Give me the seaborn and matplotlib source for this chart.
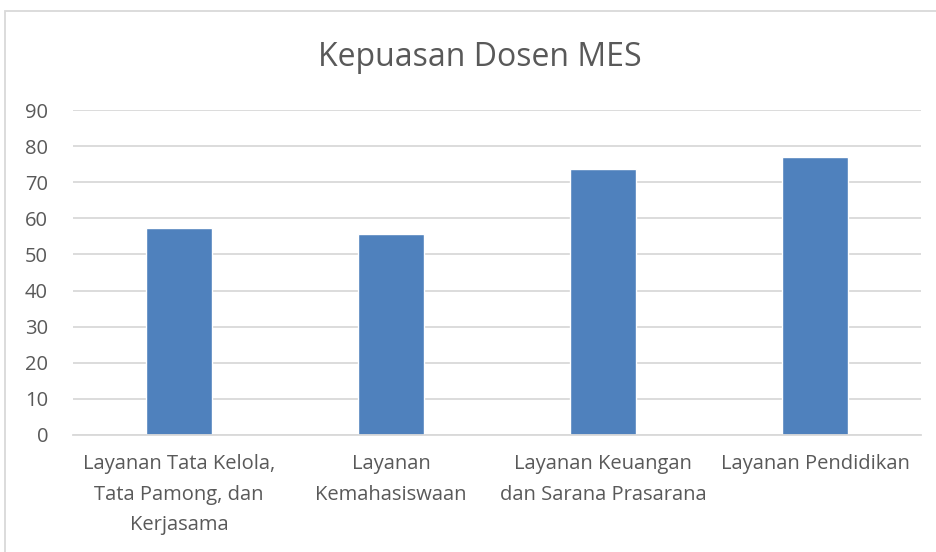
import matplotlib
matplotlib.use('Agg')
import matplotlib.pyplot as plt
import seaborn as sns
import pandas as pd
from matplotlib.patches import Rectangle

categories = ["Layanan Tata Kelola,\nTata Pamong, dan\nKerjasama",
              "Layanan\nKemahasiswaan",
              "Layanan Keuangan\ndan Sarana Prasarana",
              "Layanan Pendidikan"]
values = [57.2, 55.7, 73.8, 77.1]
yticks = [0, 10, 20, 30, 40, 50, 60, 70, 80, 90]

df = pd.DataFrame({"kategori": categories, "nilai": values})

sns.set_style("white")
plt.rcParams['font.family'] = ['Open Sans', 'DejaVu Sans']

fig = plt.figure(figsize=(9.36, 5.52), dpi=100)
ax = fig.add_axes([73 / 936, 1 - 435 / 552, 848 / 936, 325 / 552])

sns.barplot(data=df, x="kategori", y="nilai", color="#4f81bd", saturation=1,
            width=0.307, ax=ax)

ax.set_ylim(0, 90)
ax.set_yticks(yticks)
ax.set_xlim(-0.5, len(categories) - 0.5)
ax.yaxis.grid(True, color="#d9d9d9", linewidth=1.3)
ax.set_axisbelow(True)
for side in ["top", "right", "left"]:
    ax.spines[side].set_visible(False)
ax.spines["bottom"].set_color("#d9d9d9")
ax.spines["bottom"].set_linewidth(1.3)
ax.tick_params(axis="both", length=0, labelsize=14.5, colors="#595959")
ax.tick_params(axis="y", pad=18)
ax.tick_params(axis="x", pad=14)
for lbl in ax.get_xticklabels():
    lbl.set_linespacing(1.7)
ax.set_xlabel("")
ax.set_ylabel("")

fig.text(480 / 936, 1 - 57 / 552, "Kepuasan Dosen MES", ha="center", va="center",
         fontsize=23, color="#595959")

# chart border
fig.patches.append(Rectangle((5 / 936, -0.01), 1.0, 1 - 11 / 552 + 0.01,
                             transform=fig.transFigure, fill=False,
                             edgecolor="#d9d9d9", linewidth=1.3))

plt.savefig("out.png", dpi=100)
